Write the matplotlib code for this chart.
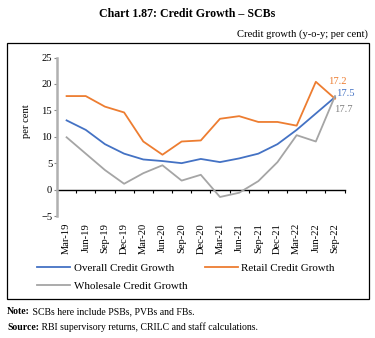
import numpy as np
import matplotlib
matplotlib.use("Agg")
import matplotlib.pyplot as plt
from matplotlib.patches import Rectangle

plt.rcParams['font.family'] = ['Liberation Serif', 'DejaVu Serif']

# quarterly data
quarters = ["Mar-19", "Jun-19", "Sep-19", "Dec-19", "Mar-20", "Jun-20", "Sep-20", "Dec-20",
            "Mar-21", "Jun-21", "Sep-21", "Dec-21", "Mar-22", "Jun-22", "Sep-22"]
overall = [13.1, 11.3, 8.6, 6.8, 5.7, 5.4, 5.0, 5.8, 5.2, 5.9, 6.8, 8.6, 11.3, 14.4, 17.5]
retail = [17.7, 17.7, 15.7, 14.6, 9.1, 6.6, 9.1, 9.3, 13.4, 13.9, 12.8, 12.8, 12.1, 20.4, 17.2]
wholesale = [9.9, 6.8, 3.7, 1.1, 3.1, 4.6, 1.7, 2.8, -1.4, -0.6, 1.6, 5.2, 10.3, 9.1, 17.7]
end_labels = ["17.2", "17.5", "17.7"]

c_blue = "#4472C4"
c_orange = "#ED7D31"
c_gray = "#A5A5A5"

fig = plt.figure(figsize=(3.75, 3.38), dpi=100)

# frame around chart
fig.patches.append(Rectangle((7 / 375, 1 - 299 / 338), 362 / 375, 256 / 338,
                             transform=fig.transFigure, fill=False,
                             edgecolor="black", linewidth=0.9))

fig.text(0.5, 1 - 14 / 338, "Chart 1.87: Credit Growth \u2013 SCBs", ha="center", va="center",
         fontsize=8.6, fontweight="bold")
fig.text(368 / 375, 1 - 34 / 338, "Credit growth (y-o-y; per cent)", ha="right", va="center",
         fontsize=7.6)

ax = fig.add_axes([57 / 375, 1 - 216 / 338, (344.6 - 57) / 375, (216 - 57.5) / 338])
x = np.arange(len(quarters))
l1, = ax.plot(x, overall, color=c_blue, lw=1.3, label="Overall Credit Growth")
l2, = ax.plot(x, retail, color=c_orange, lw=1.3, label="Retail Credit Growth")
l3, = ax.plot(x, wholesale, color=c_gray, lw=1.3, label="Wholesale Credit Growth")

ax.set_xlim(-0.5, len(quarters) - 0.5)
ax.set_ylim(-5, 25)
ax.set_yticks(np.arange(-5, 26, 5))
ax.tick_params(axis="y", labelsize=7.6, length=2.5, width=0.8, color="#888888", pad=1)

ax.set_xticks(x)
ax.set_xticklabels(quarters, rotation=90, fontsize=7.6)
ax.tick_params(axis="x", length=0, pad=5)

for s in ["top", "right", "bottom"]:
    ax.spines[s].set_visible(False)
ax.spines["left"].set_color("#B0B0B0")
ax.spines["left"].set_linewidth(1.8)

# zero line with category boundary ticks
sec = ax.secondary_xaxis(5 / 30)
sec.set_xticks(np.arange(-0.5, len(quarters), 1.0))
sec.set_xticklabels([])
sec.tick_params(axis="x", direction="out", length=2.5, width=0.8)
sec.spines["bottom"].set_linewidth(1.0)

ax.set_ylabel("per cent", fontsize=7.6)
ax.yaxis.set_label_coords(-0.09, 0.6)

# end-of-series labels
ax.text(14.11, 20.4, end_labels[0], color=c_orange, fontsize=7.6, ha="center", va="center", clip_on=False)
ax.text(14.55, 18.1, end_labels[1], color=c_blue, fontsize=7.6, ha="center", va="center", clip_on=False)
ax.text(14.44, 15.1, end_labels[2], color="#808080", fontsize=7.6, ha="center", va="center", clip_on=False)

# legend: row 1 overall / retail, row 2 wholesale
fig.legend([l1, l3, l2], [l1.get_label(), l3.get_label(), l2.get_label()], ncol=2,
           loc="upper left", bbox_to_anchor=(33 / 375, 1 - 259 / 338),
           frameon=False, fontsize=7.9, handlelength=3.0, handletextpad=0.3,
           columnspacing=1.6, labelspacing=0.75, borderaxespad=0)

# notes with bold lead-in
renderer = fig.canvas.get_renderer()
for yy, head, body in [(312, "Note:", " SCBs here include PSBs, PVBs and FBs."),
                       (327, "Source:", " RBI supervisory returns, CRILC and staff calculations.")]:
    t = fig.text(7 / 375, 1 - yy / 338, head, ha="left", va="center", fontsize=7, fontweight="bold")
    bb = t.get_window_extent(renderer)
    fig.text(bb.x1 / fig.bbox.width, 1 - yy / 338, body, ha="left", va="center", fontsize=7)

fig.savefig("out.png", dpi=100)
